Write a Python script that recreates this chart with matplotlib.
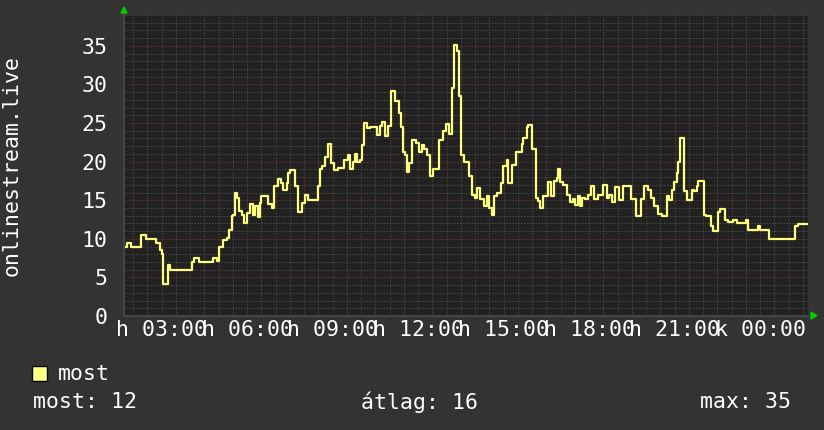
import matplotlib
matplotlib.use("Agg")
import matplotlib.pyplot as plt
from matplotlib.ticker import MultipleLocator, FuncFormatter
from matplotlib.patches import Polygon, Rectangle

# hours since midnight (day "h"), value at the start of each step
hours = [1.69, 1.80, 1.93, 2.27, 2.46, 2.81, 2.95, 3.01, 3.06, 3.22, 3.30, 4.06,
         4.14, 4.33, 4.80, 4.94, 5.03, 5.15, 5.29, 5.38, 5.46, 5.52, 5.58, 5.66,
         5.73, 5.81, 5.89, 5.99, 6.11, 6.22, 6.28, 6.37, 6.44, 6.49, 6.75, 6.87,
         6.96, 7.08, 7.19, 7.27, 7.39, 7.45, 7.51, 7.68, 7.80, 7.92, 8.03, 8.15,
         8.48, 8.56, 8.62, 8.74, 8.83, 8.95, 9.06, 9.18, 9.41, 9.53, 9.61, 9.73,
         9.79, 9.85, 9.96, 10.02, 10.12, 10.20, 10.32, 10.55, 10.67, 10.75, 10.84, 10.96,
         11.05, 11.19, 11.34, 11.39, 11.46, 11.54, 11.62, 11.69, 11.78, 11.93, 12.05, 12.13,
         12.21, 12.31, 12.42, 12.54, 12.75, 12.87, 12.98, 13.10, 13.18, 13.26, 13.36, 13.44,
         13.51, 13.61, 13.80, 13.88, 14.00, 14.08, 14.18, 14.32, 14.43, 14.50, 14.59, 14.67,
         14.78, 14.90, 14.99, 15.11, 15.17, 15.29, 15.44, 15.64, 15.69, 15.81, 15.87, 16.01,
         16.13, 16.22, 16.28, 16.40, 16.55, 16.67, 16.78, 16.87, 16.92, 16.98, 17.10, 17.22,
         17.33, 17.45, 17.51, 17.60, 17.68, 17.77, 17.86, 17.95, 18.07, 18.19, 18.31, 18.50,
         18.62, 18.70, 18.82, 18.91, 19.05, 19.20, 19.47, 19.65, 19.82, 19.94, 20.06, 20.18,
         20.29, 20.43, 20.55, 20.73, 20.81, 20.92, 20.99, 21.08, 21.13, 21.19, 21.34, 21.43,
         21.60, 21.69, 21.78, 21.84, 22.05, 22.10, 22.28, 22.36, 22.52, 22.60, 22.77, 22.89,
         23.06, 23.18, 23.50, 23.59, 23.92, 24.00, 24.32, 25.23, 25.32, 25.68]
values = [9.0, 9.5, 9.0, 10.5, 10.0, 9.4, 8.6, 8.0, 4.2, 6.6, 6.0, 7.0,
          7.5, 7.0, 7.5, 7.1, 9.0, 9.9, 10.1, 11.1, 12.9, 13.1, 16.0, 15.3,
          13.6, 13.1, 12.0, 13.3, 14.5, 13.1, 14.3, 12.8, 14.6, 15.5, 14.5, 14.0,
          16.8, 17.7, 17.2, 16.3, 17.2, 18.5, 18.9, 16.8, 13.5, 14.6, 15.7, 15.0,
          16.9, 19.1, 19.4, 20.6, 22.3, 19.8, 18.9, 19.2, 20.2, 20.9, 19.1, 20.0,
          21.0, 20.0, 20.2, 22.2, 25.0, 24.3, 24.5, 23.5, 24.6, 25.1, 23.3, 24.6,
          29.1, 27.9, 26.3, 24.5, 21.3, 20.9, 18.7, 19.8, 22.8, 22.4, 21.3, 22.2,
          21.7, 20.9, 18.1, 19.0, 22.8, 24.0, 24.9, 23.6, 29.6, 35.1, 34.3, 28.5,
          20.9, 20.0, 18.1, 15.7, 15.3, 16.6, 15.1, 14.2, 15.5, 14.0, 13.1, 15.5,
          15.9, 17.2, 19.4, 20.2, 17.2, 19.6, 21.3, 22.3, 23.1, 24.5, 24.8, 21.7,
          15.3, 14.9, 14.0, 15.5, 17.3, 15.5, 17.5, 17.9, 19.0, 17.3, 17.0, 15.7,
          14.8, 15.1, 14.4, 15.5, 14.2, 15.3, 15.1, 15.7, 16.9, 15.1, 15.7, 17.0,
          15.3, 15.7, 14.8, 16.7, 15.0, 16.8, 15.1, 12.9, 15.1, 16.9, 16.3, 15.3,
          14.2, 13.2, 12.9, 15.5, 15.0, 16.3, 17.3, 18.5, 20.0, 23.0, 16.2, 15.0,
          16.3, 16.2, 16.8, 17.5, 13.1, 12.9, 11.6, 11.0, 13.5, 13.9, 12.5, 12.2,
          12.5, 12.0, 12.5, 11.1, 11.6, 11.2, 10.0, 11.6, 11.9, 11.9]

label_hours = [3, 6, 9, 12, 15, 18, 21, 24]
label_texts = ["h 03:00", "h 06:00", "h 09:00", "h 12:00", "h 15:00",
               "h 18:00", "h 21:00", "k 00:00"]
legend_name = "most"
stats = ["most: 12", "átlag: 16", "max: 35"]
y_title = "onlinestream.live"

W, H = 824, 430
mono = "DejaVu Sans Mono"
fs = 15.5

fig = plt.figure(figsize=(W / 100, H / 100), dpi=100, facecolor="#333333")
ax = fig.add_axes([124 / W, (H - 316) / H, 684 / W, (316 - 15) / H])
ax.set_facecolor("#212121")

ax.set_xlim(1.684, 25.684)
ax.set_ylim(0, 39)
ax.xaxis.set_major_locator(MultipleLocator(1))
ax.xaxis.set_minor_locator(MultipleLocator(0.5))
ax.yaxis.set_major_locator(MultipleLocator(5))
ax.yaxis.set_minor_locator(MultipleLocator(1))

ax.grid(which="minor", color="#4a4a4a", linestyle=(0, (1.5, 1.5)), linewidth=0.7)
ax.grid(which="major", color="#6a3434", linestyle=(0, (1.5, 1.5)), linewidth=0.7)
ax.set_axisbelow(True)

def xfmt(v, pos):
    h = int(round(v))
    if h in label_hours:
        return label_texts[label_hours.index(h)]
    return ""

ax.xaxis.set_major_formatter(FuncFormatter(xfmt))
ax.tick_params(which="both", length=0)
ax.tick_params(axis="x", colors="white", labelsize=fs, pad=3)
ax.tick_params(axis="y", colors="white", labelsize=fs, pad=12)
for lab in ax.get_xticklabels() + ax.get_yticklabels():
    lab.set_family(mono)

for side in ["top", "right"]:
    ax.spines[side].set_visible(False)
for side in ["left", "bottom"]:
    ax.spines[side].set_color("#454545")
    ax.spines[side].set_linewidth(1.5)

ax.step(hours, values, where="post", color="#ffff80", linewidth=1.6)

# axis arrows
def px(x, y):
    return (x / W, 1 - y / H)

fig.patches.append(Polygon([px(121, 13), px(127, 13), px(124, 7)], closed=True,
                           transform=fig.transFigure, color="#00cc00"))
fig.patches.append(Polygon([px(811, 312), px(811, 319), px(817, 315.5)], closed=True,
                           transform=fig.transFigure, color="#00cc00"))

fig.text(12 / W, 1 - 165 / H, y_title, rotation=90, color="white", family=mono,
         fontsize=fs, ha="center", va="center")

# legend
fig.patches.append(Rectangle(px(32, 381), 15 / W, 15 / H, transform=fig.transFigure,
                             facecolor="#ffff80", edgecolor="black", linewidth=1))
fig.text(58 / W, 1 - 374 / H, legend_name, color="white", family=mono, fontsize=fs,
         va="center", ha="left")
fig.text(33 / W, 1 - 402 / H, stats[0], color="white", family=mono, fontsize=fs,
         va="center", ha="left")
fig.text(361 / W, 1 - 402 / H, stats[1], color="white", family=mono, fontsize=fs,
         va="center", ha="left")
fig.text(791 / W, 1 - 402 / H, stats[2], color="white", family=mono, fontsize=fs,
         va="center", ha="right")

fig.savefig("out.png", dpi=100, facecolor=fig.get_facecolor())
